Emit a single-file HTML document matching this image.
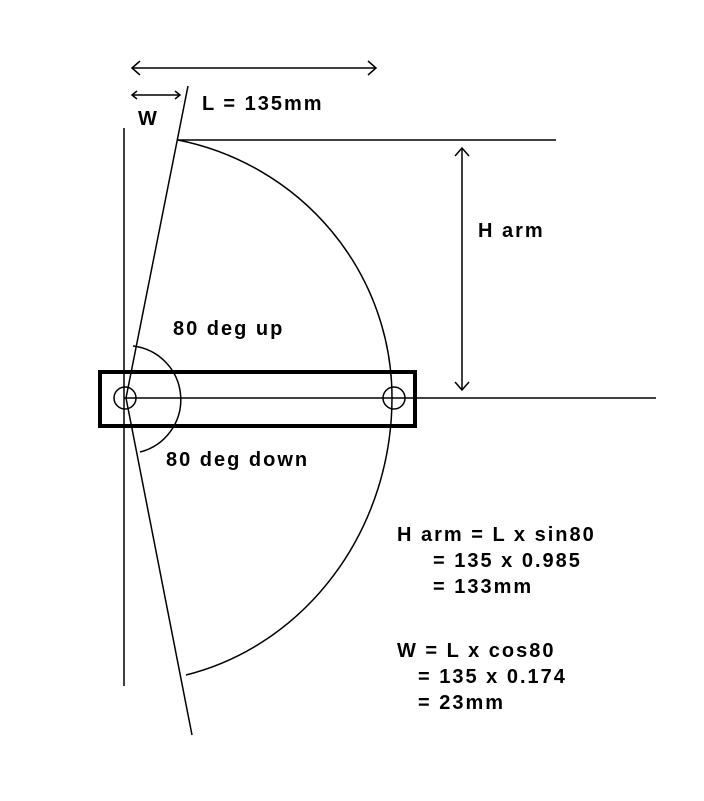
<!DOCTYPE html>
<html><head><style>
html,body{margin:0;padding:0;background:#fff;}
svg{display:block;}
text{font-family:"Liberation Sans",sans-serif;font-weight:bold;font-size:20px;letter-spacing:2px;fill:#000;}
</style></head><body>
<svg width="704" height="801" viewBox="0 0 704 801" xmlns="http://www.w3.org/2000/svg">
<g stroke="#000" fill="none" stroke-width="1.5">
<line x1="124" y1="128" x2="124" y2="686"/>
<line x1="188" y1="86" x2="126" y2="398"/>
<line x1="126" y1="398" x2="192" y2="735"/>
<line x1="178" y1="140" x2="556" y2="140"/>
<line x1="124" y1="398" x2="656" y2="398"/>
<path d="M178 140 A267 263 0 0 1 392 398 A267 285 0 0 1 186 675"/>
<path d="M133 346 A54 54 0 0 1 140 452"/>
<circle cx="125" cy="398" r="11"/>
<circle cx="394" cy="398" r="11"/>
<line x1="132" y1="68" x2="376" y2="68"/>
<polyline points="140,61 132,68 140,75"/>
<polyline points="368,61 376,68 368,75"/>
<line x1="132" y1="95" x2="180" y2="95"/>
<polyline points="137,91 132,95 137,99"/>
<polyline points="175,91 180,95 175,99"/>
<line x1="462" y1="148" x2="462" y2="390"/>
<polyline points="455,156 462,148 469,156"/>
<polyline points="455,382 462,390 469,382"/>
<rect x="100" y="372" width="315" height="54" stroke-width="4"/>
</g>
<text x="138" y="125">W</text>
<text x="202" y="110">L = 135mm</text>
<text x="478" y="237">H arm</text>
<text x="173" y="335">80 deg up</text>
<text x="166" y="466">80 deg down</text>
<text x="397" y="541">H arm = L x sin80</text>
<text x="433" y="567">= 135 x 0.985</text>
<text x="433" y="593">= 133mm</text>
<text x="397" y="657">W = L x cos80</text>
<text x="418" y="683">= 135 x 0.174</text>
<text x="418" y="709">= 23mm</text>
</svg>
</body></html>
